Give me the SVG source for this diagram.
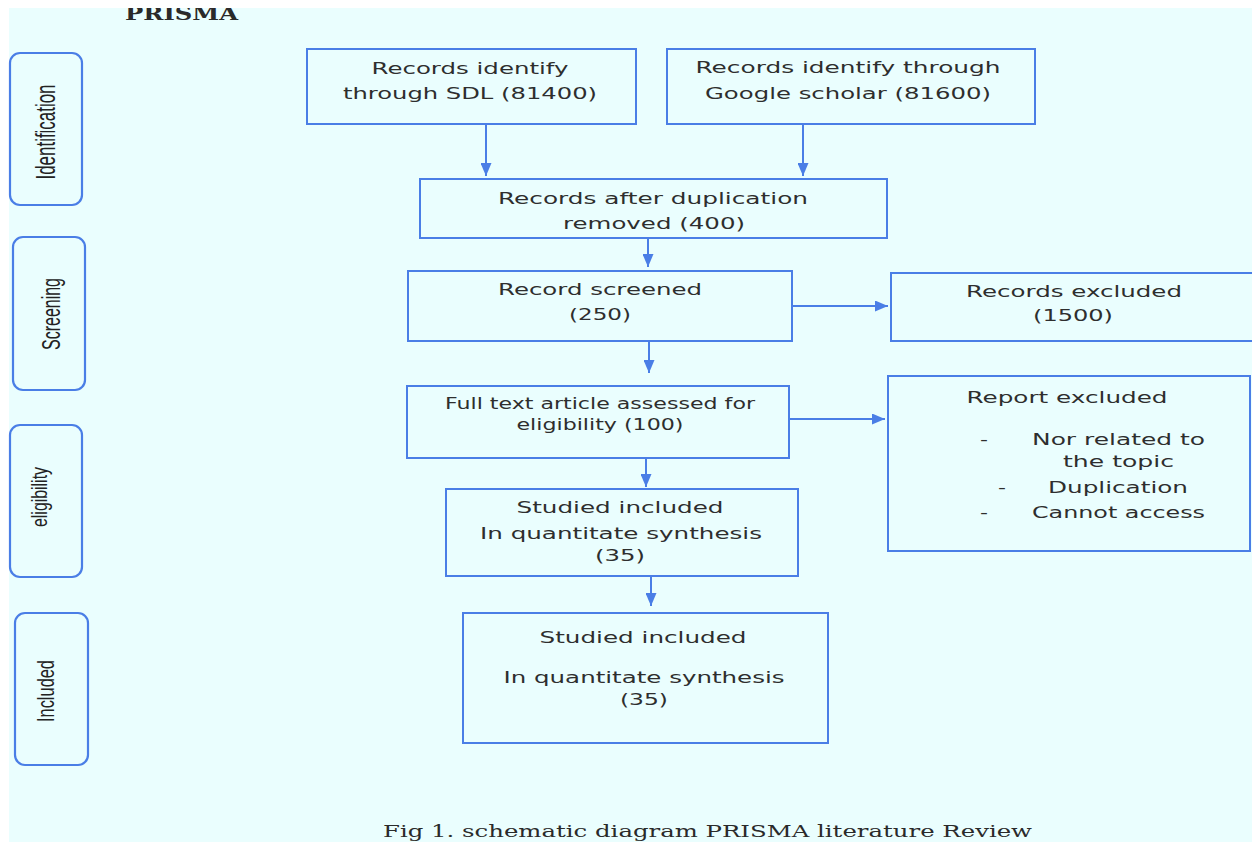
<svg xmlns="http://www.w3.org/2000/svg" width="1252" height="842" viewBox="0 0 1252 842">
<style>
.bg{fill:#eafefe}
.box{fill:none;stroke:#4a7ee6;stroke-width:2}
.side{fill:none;stroke:#4a7ee6;stroke-width:2.2}
.t{font-family:"DejaVu Sans",sans-serif;font-size:16.5px;fill:#2e2e2e;text-anchor:middle}
.ts{font-family:"DejaVu Sans",sans-serif;font-size:15px;fill:#2e2e2e;text-anchor:middle}
.tl{font-family:"DejaVu Sans",sans-serif;font-size:16.5px;fill:#2e2e2e}
.sl{font-family:"Liberation Sans",Arial,sans-serif;fill:#222;text-anchor:middle}
.serif{font-family:"DejaVu Serif","Liberation Serif",serif;fill:#2a2a2a}
.conn{stroke:#4a7ee6;stroke-width:2;fill:none;marker-end:url(#ah)}
</style>
<defs>
<marker id="ah" markerUnits="userSpaceOnUse" markerWidth="13" markerHeight="11" refX="13" refY="5.5" orient="auto">
<path d="M0,0 L13,5.5 L0,11 z" fill="#4a7ee6"/>
</marker>
</defs>
<rect x="0" y="0" width="1252" height="842" fill="#ffffff"/>
<rect class="bg" x="9" y="8" width="1243" height="834"/>
<text class="serif" x="125" y="20" font-size="18" font-weight="bold" textLength="113" lengthAdjust="spacingAndGlyphs">PRISMA</text>
<rect x="0" y="0" width="1252" height="8" fill="#ffffff"/>

<g id="side-identification">
<rect class="side" x="10" y="53" width="72" height="152" rx="10"/>
<text class="sl" font-size="27" transform="translate(55,132) rotate(-90)" textLength="95" lengthAdjust="spacingAndGlyphs">Identification</text>
</g>
<g id="side-screening">
<rect class="side" x="13" y="237" width="72" height="153" rx="10"/>
<text class="sl" font-size="26" transform="translate(60,314) rotate(-90)" textLength="72" lengthAdjust="spacingAndGlyphs">Screening</text>
</g>
<g id="side-eligibility">
<rect class="side" x="10" y="425" width="72" height="152" rx="10"/>
<text class="sl" font-size="22" transform="translate(47,497) rotate(-90)" textLength="60" lengthAdjust="spacingAndGlyphs">eligibility</text>
</g>
<g id="side-included">
<rect class="side" x="15" y="613" width="73" height="152" rx="10"/>
<text class="sl" font-size="24" transform="translate(54,691) rotate(-90)" textLength="62" lengthAdjust="spacingAndGlyphs">Included</text>
</g>

<g id="connectors">
<path class="conn" d="M486,124 L486,176"/>
<path class="conn" d="M803,124 L803,176"/>
<path class="conn" d="M648,238 L648,267"/>
<path class="conn" d="M792,306 L888,306"/>
<path class="conn" d="M649,341 L649,373"/>
<path class="conn" d="M789,419 L885,419"/>
<path class="conn" d="M646,458 L646,487"/>
<path class="conn" d="M651,576 L651,606"/>
</g>

<g id="n-sdl">
<rect class="box" x="307" y="49" width="329" height="75"/>
<text class="t" x="470" y="74" textLength="197" lengthAdjust="spacingAndGlyphs">Records identify</text>
<text class="t" x="470" y="99" textLength="254" lengthAdjust="spacingAndGlyphs">through SDL (81400)</text>
</g>
<g id="n-google">
<rect class="box" x="667" y="49" width="368" height="75"/>
<text class="t" x="848" y="73" textLength="305" lengthAdjust="spacingAndGlyphs">Records identify through</text>
<text class="t" x="848" y="99" textLength="286" lengthAdjust="spacingAndGlyphs">Google scholar (81600)</text>
</g>
<g id="n-dup">
<rect class="box" x="420" y="179" width="467" height="59"/>
<text class="t" x="653" y="204" textLength="310" lengthAdjust="spacingAndGlyphs">Records after duplication</text>
<text class="t" x="654" y="229" textLength="182" lengthAdjust="spacingAndGlyphs">removed (400)</text>
</g>
<g id="n-screened">
<rect class="box" x="408" y="271" width="384" height="70"/>
<text class="t" x="600" y="295" textLength="204" lengthAdjust="spacingAndGlyphs">Record screened</text>
<text class="t" x="600" y="320" textLength="62" lengthAdjust="spacingAndGlyphs">(250)</text>
</g>
<g id="n-rec-excluded">
<rect class="box" x="891" y="273" width="365" height="68"/>
<text class="t" x="1074" y="297" textLength="216" lengthAdjust="spacingAndGlyphs">Records excluded</text>
<text class="t" x="1073" y="321" textLength="80" lengthAdjust="spacingAndGlyphs">(1500)</text>
</g>
<g id="n-fulltext">
<rect class="box" x="407" y="386" width="382" height="72"/>
<text class="ts" x="600" y="409" textLength="310" lengthAdjust="spacingAndGlyphs">Full text article assessed for</text>
<text class="ts" x="600" y="430" textLength="167" lengthAdjust="spacingAndGlyphs">eligibility (100)</text>
</g>
<g id="n-report-excluded">
<rect class="box" x="888" y="376" width="362" height="175"/>
<text class="t" x="1067" y="403" textLength="201" lengthAdjust="spacingAndGlyphs">Report excluded</text>
<text class="tl" x="980" y="445" textLength="8" lengthAdjust="spacingAndGlyphs">-</text>
<text class="tl" x="1032" y="445" textLength="173" lengthAdjust="spacingAndGlyphs">Nor related to</text>
<text class="tl" x="1063" y="467" textLength="111" lengthAdjust="spacingAndGlyphs">the topic</text>
<text class="tl" x="998" y="493" textLength="8" lengthAdjust="spacingAndGlyphs">-</text>
<text class="tl" x="1048" y="493" textLength="140" lengthAdjust="spacingAndGlyphs">Duplication</text>
<text class="tl" x="980" y="518" textLength="8" lengthAdjust="spacingAndGlyphs">-</text>
<text class="tl" x="1032" y="518" textLength="173" lengthAdjust="spacingAndGlyphs">Cannot access</text>
</g>
<g id="n-studied-1">
<rect class="box" x="446" y="489" width="352" height="87"/>
<text class="t" x="620" y="513" textLength="207" lengthAdjust="spacingAndGlyphs">Studied included</text>
<text class="t" x="621" y="539" textLength="282" lengthAdjust="spacingAndGlyphs">In quantitate synthesis</text>
<text class="t" x="620" y="561" textLength="50" lengthAdjust="spacingAndGlyphs">(35)</text>
</g>
<g id="n-studied-2">
<rect class="box" x="463" y="613" width="365" height="130"/>
<text class="t" x="643" y="643" textLength="207" lengthAdjust="spacingAndGlyphs">Studied included</text>
<text class="t" x="644" y="683" textLength="281" lengthAdjust="spacingAndGlyphs">In quantitate synthesis</text>
<text class="t" x="644" y="705" textLength="48" lengthAdjust="spacingAndGlyphs">(35)</text>
</g>

<text class="serif" x="383" y="837" font-size="16" textLength="649" lengthAdjust="spacingAndGlyphs">Fig 1. schematic diagram PRISMA literature Review</text>
</svg>
